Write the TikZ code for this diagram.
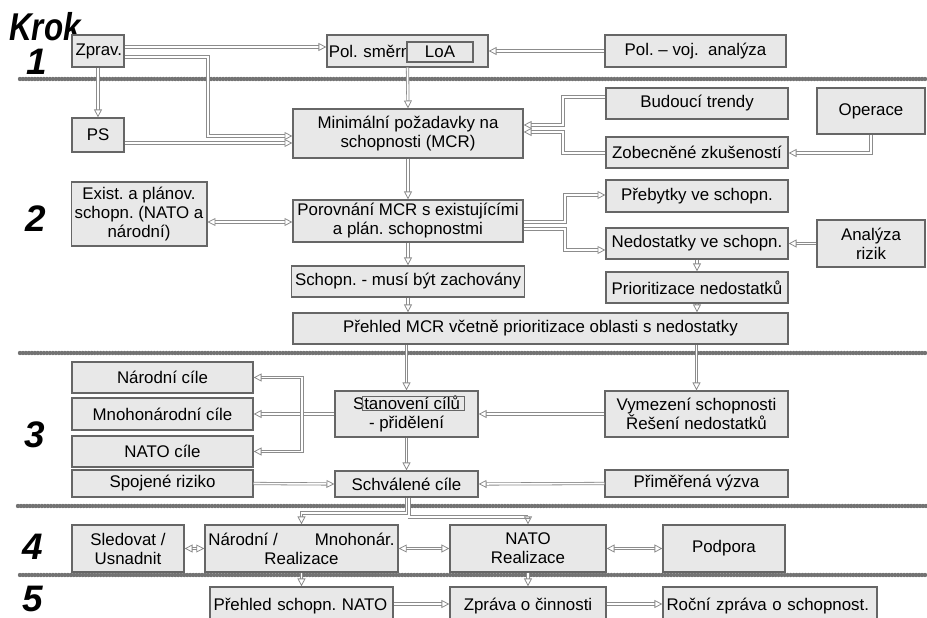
\documentclass[tikz,border=0pt]{standalone}
\usepackage{fontspec}
\setmainfont{Liberation Sans}
\usetikzlibrary{arrows.meta}
\frenchspacing

\begin{document}
\begin{tikzpicture}[x=0.02cm,y=-0.02cm,
  font=\fontsize{9.6}{10.8}\selectfont,
  box/.style={draw=black!60, fill=black!9, line width=0.7pt, inner xsep=2pt, inner ysep=0pt, align=center},
  conn/.style={draw=black!45, double=white, double distance=0.9pt, line width=0.45pt, -{Triangle[open, length=4.5pt, width=4.5pt]}},
  bconn/.style={conn, {Triangle[open, length=4.5pt, width=4.5pt]}-{Triangle[open, length=4.5pt, width=4.5pt]}},
  sep/.style={draw=black!55, line width=2.5pt, dash pattern=on 0pt off 1.7pt, line cap=round},
  krok/.style={font=\fontsize{21}{21}\selectfont\bfseries\itshape, inner sep=0pt, anchor=base west}]
  \useasboundingbox (0,0) rectangle (927,618);
  \clip (0,0) rectangle (927,618);

  % step labels
  \node[krok] (krok) at (9,41) {\scalebox{0.85}[1.05]{Krok}};
  \node[krok] (k1) at (26,75) {1};
  \node[krok] (k2) at (25,232) {2};
  \node[krok] (k3) at (24,447) {3};
  \node[krok] (k4) at (22,559) {4};
  \node[krok] (k5) at (22,611) {5};

  % separators
  \draw[sep] (20,79) -- (927,79);
  \draw[sep] (20,353) -- (927,353);
  \draw[sep] (18,506) -- (927,506);
  \draw[sep] (20,575) -- (927,575);

  % step 1
  \node[box, text width=0.9cm, minimum height=0.64cm, align=left] (zprav) at (98,51) {Zprav.};
  \node[box, inner xsep=1pt, text width=3.15cm, minimum height=0.64cm, align=left] (polsm) at (407.5,51) {Pol. směrn};
  \node[box, minimum width=1.32cm, minimum height=0.40cm] (loa) at (440,52) {LoA};
  \node[box, minimum width=3.62cm, minimum height=0.64cm] (polvoj) at (695.5,51) {Pol. – voj.\ \ analýza};

  % step 2
  \node[box, minimum width=1.04cm, minimum height=0.68cm] (ps) at (98,135) {PS};
  \node[box, minimum width=4.60cm, minimum height=0.98cm] (mcr) at (408,133.5) {Minimální požadavky na\\schopnosti (MCR)};
  \node[box, minimum width=3.64cm, minimum height=0.62cm] (trendy) at (697,103.5) {Budoucí trendy};
  \node[box, minimum width=2.16cm, minimum height=0.92cm] (operace) at (871,111) {Operace};
  \node[box, minimum width=3.64cm, minimum height=0.62cm] (zkus) at (697,152.5) {Zobecněné zkušeností};
  \node[box, minimum width=2.68cm, minimum height=1.28cm] (exist) at (139,214) {Exist. a plánov.\\schopn. (NATO a\\národní)};
  \node[box, minimum width=4.60cm, minimum height=0.84cm] (porov) at (408,221) {Porovnání MCR s existujícími\\a plán. schopnostmi};
  \node[box, minimum width=3.64cm, minimum height=0.64cm] (prebytky) at (697,196) {Přebytky ve schopn.};
  \node[box, minimum width=3.64cm, minimum height=0.62cm] (nedost) at (697,243.5) {Nedostatky ve schopn.};
  \node[box, minimum width=2.16cm, minimum height=0.94cm] (analyza) at (871,243.5) {Analýza\\rizik};
  \node[box, minimum width=4.60cm, minimum height=0.62cm] (zachov) at (408,281.5) {Schopn. - musí být zachovány};
  \node[box, minimum width=3.64cm, minimum height=0.62cm] (prior) at (697,287.5) {Prioritizace nedostatků};
  \node[box, minimum width=9.90cm, minimum height=0.62cm] (prehled) at (540.5,328.5) {Přehled MCR včetně prioritizace oblasti s nedostatky};

  % step 3
  \node[box, minimum width=3.62cm, minimum height=0.62cm] (narcile) at (162.5,377.5) {Národní cíle};
  \node[box, minimum width=3.62cm, minimum height=0.64cm] (mnocile) at (162.5,414) {Mnohonárodní cíle};
  \node[box, minimum width=3.62cm, minimum height=0.62cm] (natocile) at (162.5,451.5) {NATO cíle};
  \node[box, minimum width=3.62cm, minimum height=0.54cm] (spojene) at (162.5,483.5) {Spojené riziko};
  \node[box, minimum width=2.86cm, minimum height=0.92cm] (stanov) at (406.5,414) {Stanovení cílů\\- přidělení};
  \draw[black!60] (362,396) rectangle (464,410);
  \node[box, minimum width=2.86cm, minimum height=0.52cm] (schval) at (406.5,484) {Schválené cíle};
  \node[box, minimum width=3.66cm, minimum height=0.92cm] (vymez) at (696.5,414) {Vymezení schopnosti\\Řešení nedostatků};
  \node[box, minimum width=3.66cm, minimum height=0.54cm] (vyzva) at (696.5,483.5) {Přiměřená výzva};

  % step 4
  \node[box, minimum width=2.24cm, minimum height=0.94cm] (sledovat) at (128,548.5) {Sledovat /\\Usnadnit};
  \node[box, minimum width=3.66cm, minimum height=0.94cm] (narreal) at (301.5,548.5) {Národní /\hspace{2.2em}Mnohonár.\\Realizace};
  \node[box, minimum width=3.12cm, minimum height=0.94cm] (natoreal) at (528,548.5) {NATO\\Realizace};
  \node[box, minimum width=2.44cm, minimum height=0.94cm] (podpora) at (724,548.5) {Podpora};

  % step 5
  \node[box, text width=3.52cm, minimum height=0.76cm, align=left] (prehlnato) at (301.5,606) {Přehled schopn. NATO};
  \node[box, minimum width=3.12cm, minimum height=0.76cm] (zprava) at (528,606) {Zpráva o činnosti};
  \node[box, text width=4.14cm, minimum height=0.76cm, align=left] (rocni) at (770,606) {Roční zpráva o schopnost.};

  % connectors
  \draw[conn] (zprav.east |- 0,47) -- (polsm.west |- 0,47);
  \draw[conn] (zprav.east |- 0,57) -| (208,136) -- (mcr.west |- 0,136);
  \draw[conn] (zprav.south) -- (ps.north);
  \draw[conn] (ps.east |- 0,143) -- (mcr.west |- 0,143);
  \draw[conn] (polsm.south) -- (mcr.north);
  \draw[conn] (polvoj.west) -- (polsm.east);
  \draw[conn] (trendy.west |- 0,97) -| (563,125) -- (mcr.east |- 0,125);
  \draw[conn] (zkus.west |- 0,153) -| (563,132) -- (mcr.east |- 0,132);
  \draw[conn] (operace.south) |- (zkus.east |- 0,153);
  \draw[conn] (mcr.south) -- (porov.north);
  \draw[bconn] (exist.east |- 0,222) -- (porov.west |- 0,222);
  \draw[conn] (porov.east |- 0,222) -| (565,195) -- (prebytky.west |- 0,195);
  \draw[conn] (porov.east |- 0,229) -| (565,250) -- (nedost.west |- 0,250);
  \draw[conn] (analyza.west) -- (nedost.east);
  \draw[conn] (nedost.south) -- (prior.north);
  \draw[conn] (prior.south) -- (prehled.north -| prior.south);
  \draw[conn] (porov.south) -- (zachov.north);
  \draw[conn] (zachov.south) -- (prehled.north -| zachov.south);
  \draw[conn] (prehled.south -| stanov.north) -- (stanov.north);
  \draw[conn] (prehled.south -| vymez.north) -- (vymez.north);
  \draw[conn] (vymez.west) -- (stanov.east);
  \coordinate (split) at (302,414);
  \draw[conn] (stanov.west) -- (mnocile.east);
  \draw[conn] (split) |- (narcile.east);
  \draw[conn] (split) |- (natocile.east);
  \draw[conn] (stanov.south) -- (schval.north);
  \draw[conn] (spojene.east) -- (schval.west);
  \draw[conn] (vyzva.west) -- (schval.east);
  \draw[conn] (schval.south) |- (narreal.north |- 0,513) -- (narreal.north);
  \draw[conn] ([xshift=1.5pt]schval.south) |- (natoreal.north |- 0,517) -- (natoreal.north);
  \draw[bconn] (sledovat.east) -- (narreal.west);
  \draw[bconn] (narreal.east) -- (natoreal.west);
  \draw[bconn] (natoreal.east) -- (podpora.west);
  \draw[conn] (narreal.south) -- (prehlnato.north);
  \draw[conn] (natoreal.south) -- (zprava.north);
  \draw[conn] (prehlnato.east |- 0,604) -- (zprava.west |- 0,604);
  \draw[conn] (zprava.east |- 0,604) -- (rocni.west |- 0,604);
\end{tikzpicture}
\end{document}
